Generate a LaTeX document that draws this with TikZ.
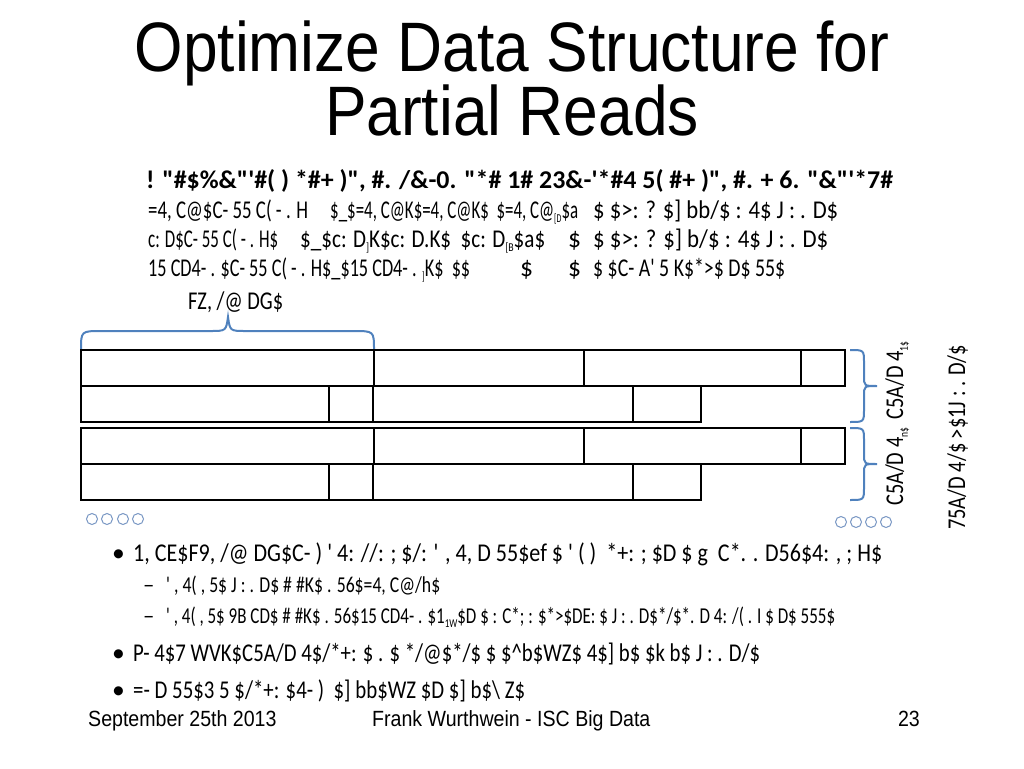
\documentclass[tikz,border=0pt]{standalone}
\usepackage{fontspec}
\setmainfont{Carlito}
\newfontfamily\titlefont{Liberation Sans}
\usetikzlibrary{calc}
\definecolor{bracecol}{RGB}{79,129,189}
\definecolor{dotcol}{RGB}{120,150,195}
\newcommand{\q}{\textquotesingle}
\newcommand{\dq}{\textquotedbl}
\newcommand{\sub}[1]{\raisebox{-0.4ex}{\fontsize{12}{12}\selectfont #1}}
\newcommand{\narrow}[1]{\scalebox{0.89}[1]{#1}}
\newlength{\largeur}
\newcommand{\ajuste}[2]{\settowidth{\largeur}{#2}\pgfmathsetmacro{\facteur}{#1/\largeur}\scalebox{\facteur}[1]{#2}}
\tikzset{
	garb/.style={anchor=base west, inner sep=0pt, font=\fontsize{25.6}{28}\selectfont},
	garbsmall/.style={anchor=base west, inner sep=0pt, font=\fontsize{22.7}{25}\selectfont},
	foot/.style={anchor=base west, inner sep=0pt, font=\titlefont\fontsize{22}{22}\selectfont},
	bloc/.style={draw=black, line width=1.3pt},
	accol/.style={draw=bracecol, line width=2pt},
	rond/.style={draw=dotcol, line width=1pt}
}

\begin{document}
\begin{tikzpicture}[x=1pt,y=-1pt]
\useasboundingbox (0,0) rectangle (1024,768);
% titre
\node[anchor=base, inner sep=0pt, font=\titlefont\fontsize{70}{70}\selectfont] (T1) at (512,71) {\narrow{Optimize Data Structure for}};
\node[anchor=base, inner sep=0pt, font=\titlefont\fontsize{70}{70}\selectfont] (T2) at (512,135) {\narrow{Partial Reads}};
% lignes du haut
\node[garb, font=\fontsize{25.6}{28}\selectfont\bfseries] (L1) at (146,188) {\ajuste{747}{! \dq\#\$\%\&\dq\q\#( ) *\#+ )\dq, \#. /\&-0. \dq*\# 1\# 23\&-\q*\#4 5( \#+ )\dq, \#. + 6. \dq\&\dq\q*7\#}};
\node[garb] (L2a) at (148,218) {\ajuste{160}{=4, C@\$C- 55 C( - . H}};
\node[garb] (L2b) at (330,218) {\ajuste{248}{\$\_\$=4, C@K\$=4, C@K\$ \ \$=4, C@\sub{[D}\$a}};
\node[garb] (L2c) at (593,218) {\ajuste{245}{\$ \$>: ? \$] bb/\$ : 4\$ J : . D\$}};
\node[garb] (L3a) at (148,247) {\ajuste{130}{c: D\$C- 55 C( - . H\$}};
\node[garb] (L3b) at (300,247) {\ajuste{245}{\$\_\$c: D\sub{]}K\$c: D.K\$ \ \$c: D\sub{[B}\$a\$}};
\node[garb] (L3c) at (568,247) {\$};
\node[garb] (L3d) at (593,247) {\ajuste{235}{\$ \$>: ? \$] b/\$ : 4\$ J : . D\$}};
\node[garb] (L4a) at (148,276) {\ajuste{322}{15 CD4- . \$C- 55 C( - . H\$\_\$15 CD4- . \sub{]}K\$ \ \$\$}};
\node[garb] (L4b) at (520,276) {\$};
\node[garb] (L4c) at (568,276) {\$};
\node[garb] (L4d) at (593,276) {\ajuste{192}{\$ \$C- A\q{} 5 K\$*>\$ D\$ 55\$}};
\node[garb] (FZ) at (188,309) {\ajuste{95}{FZ, /@ DG\$}};
% accolade du haut
\draw[accol] (81,350) .. controls (81,331) .. (102,331) -- (210,331) .. controls (226,331) .. (228,317) .. controls (230,331) .. (246,331) -- (353,331) .. controls (374,331) .. (374,350);
% les blocs
\foreach \y in {350,428}{
	\draw[bloc] (81,\y) rectangle (845,\y+36);
	\foreach \x in {374,584,801} \draw[bloc] (\x,\y) -- (\x,\y+36);
	\draw[bloc] (81,\y+36) rectangle (701,\y+72);
	\foreach \x in {329,373,633} \draw[bloc] (\x,\y+36) -- (\x,\y+72);
	% accolade de droite
	\draw[accol] (850,\y) .. controls (864,\y) .. (864,\y+13) -- (864,\y+26) .. controls (864,\y+36) .. (877,\y+36) .. controls (864,\y+36) .. (864,\y+46) -- (864,\y+59) .. controls (864,\y+72) .. (850,\y+72);
}
\node[garb, rotate=90] (C1) at (903,420) {\ajuste{78}{C5A/D 4\sub{1\$}}};
\node[garb, rotate=90] (C2) at (903,506) {\ajuste{78}{C5A/D 4\sub{n\$}}};
\node[garb, rotate=90] (C3) at (965,530) {\ajuste{185}{75A/D 4/\$ >\$1J : . D/\$}};
% petits ronds
\foreach \x in {92,107,123,138} \draw[rond] (\x,519) circle (5.5);
\foreach \x in {841,856,871,886} \draw[rond] (\x,522) circle (5.5);
% puces
\node[garb] (P1) at (112,561) {\textbullet};
\node[garb] (B1) at (133,561) {\ajuste{749}{1, CE\$F9, /@ DG\$C- ) \q{} 4: //: ; \$/: \q{} , 4, D 55\$ef \$ \q{} ( ) \ *+: ; \$D \$ g \ C*. . D56\$4: , ; H\$}};
\node[garbsmall] (P2) at (143,592) {--};
\node[garbsmall] (B2) at (166,592) {\ajuste{274}{\q{} , 4( , 5\$ J : . D\$ \# \#K\$ . 56\$=4, C@/h\$}};
\node[garbsmall] (P3) at (143,623) {--};
\node[garbsmall] (B3) at (166,623) {\ajuste{669}{\q{} , 4( , 5\$ 9B CD\$ \# \#K\$ . 56\$15 CD4- . \$1\sub{1W}\$D \$ : C*; : \$*>\$DE: \$ J : . D\$*/\$*. D 4: /( . I \$ D\$ 555\$}};
\node[garb] (P4) at (112,661) {\textbullet};
\node[garb] (B4) at (133,661) {\ajuste{627}{P- 4\$7 WVK\$C5A/D 4\$/*+: \$ . \$ */@\$*/\$ \$ \$\textasciicircum b\$WZ\$ 4\$] b\$ \$k b\$ J : . D/\$}};
\node[garb] (P5) at (112,698) {\textbullet};
\node[garb] (B5) at (133,698) {\ajuste{392}{=- D 55\$3 5 \$/*+: \$4- ) \ \$] bb\$WZ \$D \$] b\$\textbackslash{} Z\$}};
% pied de page
\node[foot] (F1) at (88,726) {\narrow{September 25th 2013}};
\node[foot] (F2) at (372,726) {\narrow{Frank Wurthwein - ISC Big Data}};
\node[foot, anchor=base east] (F3) at (920,726) {\narrow{23}};
\end{tikzpicture}
\end{document}
